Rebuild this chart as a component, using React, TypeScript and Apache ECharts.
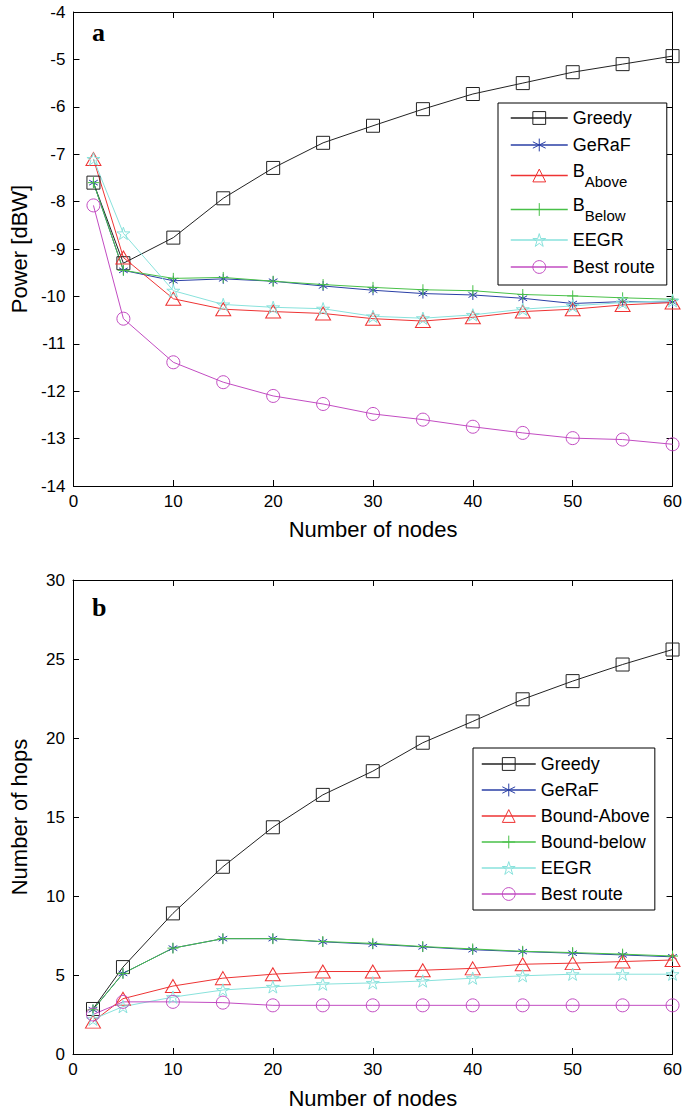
import React, { useEffect, useRef } from 'react';
import * as echarts from 'echarts';

// ---------- data ----------
const NODES = [2, 5, 10, 15, 20, 25, 30, 35, 40, 45, 50, 55, 60];

// panel a: Power [dBW]
const greedyPower = [-7.6, -9.3, -8.76, -7.93, -7.29, -6.76, -6.4, -6.05, -5.73, -5.5, -5.27, -5.1, -4.93];
const gerafPower = [-7.6, -9.45, -9.67, -9.63, -9.68, -9.78, -9.87, -9.94, -9.97, -10.04, -10.15, -10.11, -10.12];
const bAbovePower = [-7.1, -9.18, -10.05, -10.27, -10.32, -10.36, -10.47, -10.52, -10.44, -10.32, -10.27, -10.18, -10.13];
const bBelowPower = [-7.6, -9.45, -9.62, -9.6, -9.68, -9.75, -9.81, -9.86, -9.88, -9.96, -9.99, -10.03, -10.06];
const eegrPower = [-7.1, -8.67, -9.88, -10.17, -10.23, -10.26, -10.42, -10.46, -10.39, -10.27, -10.2, -10.13, -10.09];
const bestPower = [-8.08, -10.47, -11.39, -11.81, -12.1, -12.27, -12.48, -12.6, -12.75, -12.88, -12.99, -13.02, -13.12];

// panel b: Number of hops
const greedyHops = [2.85, 5.5, 8.9, 11.85, 14.35, 16.4, 17.9, 19.7, 21.05, 22.45, 23.6, 24.65, 25.6];
const gerafHops = [2.8, 5.1, 6.7, 7.3, 7.3, 7.1, 6.95, 6.78, 6.6, 6.48, 6.38, 6.27, 6.15];
const boundAboveHops = [2.05, 3.5, 4.3, 4.8, 5.05, 5.22, 5.22, 5.3, 5.42, 5.68, 5.75, 5.85, 5.95];
const boundBelowHops = [2.8, 5.1, 6.7, 7.3, 7.3, 7.12, 7.0, 6.8, 6.65, 6.5, 6.42, 6.32, 6.2];
const eegrHops = [2.2, 3.0, 3.6, 4.05, 4.25, 4.42, 4.5, 4.62, 4.8, 4.95, 5.05, 5.05, 5.05];
const bestHops = [2.5, 3.3, 3.3, 3.25, 3.08, 3.08, 3.08, 3.08, 3.08, 3.08, 3.08, 3.08, 3.08];

const LEGEND_A = ['Greedy', 'GeRaF', 'B_Above', 'B_Below', 'EEGR', 'Best route'];
const LEGEND_B = ['Greedy', 'GeRaF', 'Bound-Above', 'Bound-below', 'EEGR', 'Best route'];

const X_AXIS = { min: 0, max: 60, interval: 10 };
const Y_AXIS_A = { min: -14, max: -4, interval: 1 };
const Y_AXIS_B = { min: 0, max: 30, interval: 5 };

// ---------- style ----------
const FONT = "'Liberation Sans', Arial, Helvetica, sans-serif";
const C_BLACK = '#222222';
const C_BLUE = '#2a3fa6';
const C_RED = '#ee3333';
const C_GREEN = '#48c048';
const C_CYAN = '#88e2dc';
const C_MAGENTA = '#c24cc2';

const SYM_ASTERISK = 'path://M0,-10L0,10M-8.66,-5L8.66,5M-8.66,5L8.66,-5';
const SYM_PLUS = 'path://M0,-10L0,10M-10,0L10,0';
const SYM_STAR =
  'path://M0,-10L2.245,-3.09L9.511,-3.09L3.633,1.18L5.878,8.09L0,3.82L-5.878,8.09L-3.633,1.18L-9.511,-3.09L-2.245,-3.09Z';

function makeSeries(
  name: string,
  values: number[],
  color: string,
  symbol: string,
  size: number | number[],
  axisIndex: number
) {
  return {
    type: 'line',
    name,
    data: NODES.map((x, i) => [x, values[i]]),
    xAxisIndex: axisIndex,
    yAxisIndex: axisIndex,
    symbol,
    symbolSize: size,
    symbolKeepAspect: true,
    showAllSymbol: true,
    lineStyle: { color, width: 1 },
    itemStyle: { color: 'rgba(255,255,255,0)', borderColor: color, borderWidth: 1 },
    emphasis: { disabled: true },
    silent: true,
  };
}

function axisPair(gridIndex: number, isX: boolean, range: any, name: string, nameGap: number) {
  const common = {
    gridIndex,
    type: 'value',
    min: range.min,
    max: range.max,
    interval: range.interval,
    splitLine: { show: false },
    axisLine: { show: true, onZero: false, lineStyle: { color: '#000', width: 1 } },
    axisTick: { show: true, inside: true, length: 6, lineStyle: { color: '#000', width: 1 } },
  };
  const main = {
    ...common,
    position: isX ? 'bottom' : 'left',
    name,
    nameLocation: 'middle',
    nameGap,
    nameTextStyle: { fontFamily: FONT, fontSize: 22, color: '#000' },
    axisLabel: { show: true, fontFamily: FONT, fontSize: 17, color: '#000', margin: isX ? 7 : 8 },
  };
  const mirror = {
    ...common,
    position: isX ? 'top' : 'right',
    axisLabel: { show: false },
  };
  return [main, mirror];
}

function legendFormatter(name: string) {
  if (name === 'B_Above') return '{b|B}{s|Above}';
  if (name === 'B_Below') return '{b|B}{s|Below}';
  return name;
}

const App: React.FC = () => {
  const ref = useRef<HTMLDivElement>(null);

  useEffect(() => {
    if (!ref.current) return;
    const chart = echarts.init(ref.current, undefined, { renderer: 'svg' });

    const legendText = {
      fontFamily: FONT,
      fontSize: 18,
      lineHeight: 20,
      color: '#000',
      rich: {
        b: { fontFamily: FONT, fontSize: 18, lineHeight: 27, verticalAlign: 'top', color: '#000' },
        s: {
          fontFamily: FONT,
          fontSize: 15,
          lineHeight: 27,
          verticalAlign: 'top',
          padding: [12, 0, 0, 0],
          color: '#000',
        },
      },
    };

    const option: any = {
      animation: false,
      backgroundColor: '#fff',
      grid: [
        { left: 71, top: 12, width: 606, height: 474, containLabel: false },
        { left: 71, top: 580, width: 606, height: 474, containLabel: false },
      ],
      xAxis: [
        ...axisPair(0, true, X_AXIS, 'Number of nodes', 32),
        ...axisPair(1, true, X_AXIS, 'Number of nodes', 33),
      ],
      yAxis: [
        ...axisPair(0, false, Y_AXIS_A, 'Power [dBW]', 43),
        ...axisPair(1, false, Y_AXIS_B, 'Number of hops', 43),
      ],
      legend: [
        {
          data: LEGEND_A,
          orient: 'vertical',
          left: 498,
          top: 103,
          padding: [5, 12, 8, 12],
          itemWidth: 57,
          itemHeight: 16,
          itemGap: 7,
          borderColor: '#000',
          borderWidth: 1,
          backgroundColor: '#fff',
          selectedMode: false,
          formatter: legendFormatter,
          textStyle: legendText,
          itemStyle: { borderWidth: 1 },
          lineStyle: { width: 1.5 },
        },
        {
          data: LEGEND_B,
          orient: 'vertical',
          left: 473,
          top: 748,
          padding: [6, 5, 6, 8],
          itemWidth: 54,
          itemHeight: 16,
          itemGap: 6,
          borderColor: '#000',
          borderWidth: 1,
          backgroundColor: '#fff',
          selectedMode: false,
          textStyle: { fontFamily: FONT, fontSize: 18, lineHeight: 20, color: '#000' },
          itemStyle: { borderWidth: 1 },
          lineStyle: { width: 1.5 },
        },
      ],
      graphic: [
        {
          type: 'text',
          style: {
            text: 'a',
            x: 92,
            y: 32,
            font: "bold 26px 'Liberation Serif', 'Times New Roman', serif",
            fill: '#000',
            align: 'left',
            verticalAlign: 'middle',
            textAlign: 'left',
            textVerticalAlign: 'middle',
          },
        },
        {
          type: 'text',
          style: {
            text: 'b',
            x: 92,
            y: 607,
            font: "bold 26px 'Liberation Serif', 'Times New Roman', serif",
            fill: '#000',
            align: 'left',
            verticalAlign: 'middle',
            textAlign: 'left',
            textVerticalAlign: 'middle',
          },
        },
      ],
      series: [
        makeSeries('Greedy', greedyPower, C_BLACK, 'rect', 13, 0),
        makeSeries('GeRaF', gerafPower, C_BLUE, SYM_ASTERISK, 10, 0),
        makeSeries('B_Above', bAbovePower, C_RED, 'triangle', [15, 13], 0),
        makeSeries('B_Below', bBelowPower, C_GREEN, SYM_PLUS, 11, 0),
        makeSeries('EEGR', eegrPower, C_CYAN, SYM_STAR, 13, 0),
        makeSeries('Best route', bestPower, C_MAGENTA, 'circle', 13, 0),

        makeSeries('Greedy', greedyHops, C_BLACK, 'rect', 13, 2),
        makeSeries('GeRaF', gerafHops, C_BLUE, SYM_ASTERISK, 10, 2),
        makeSeries('Bound-Above', boundAboveHops, C_RED, 'triangle', [15, 13], 2),
        makeSeries('Bound-below', boundBelowHops, C_GREEN, SYM_PLUS, 11, 2),
        makeSeries('EEGR', eegrHops, C_CYAN, SYM_STAR, 13, 2),
        makeSeries('Best route', bestHops, C_MAGENTA, 'circle', 13, 2),
      ],
    };

    chart.setOption(option);
    return () => {
      chart.dispose();
    };
  }, []);

  return (
    <div
      ref={ref}
      style={{ position: 'absolute', left: 0, top: 0, width: 685, height: 1113, background: '#fff' }}
    />
  );
};

export default App;
